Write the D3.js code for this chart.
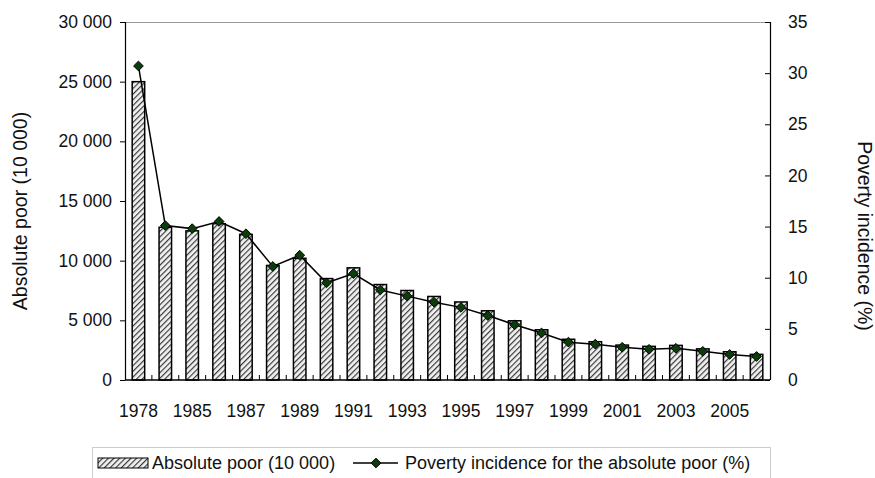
<!DOCTYPE html>
<html>
<head>
<meta charset="utf-8">
<script src="https://cdn.jsdelivr.net/npm/d3@7"></script>
<style>
  body { margin: 0; background: #fff; }
  text { font-family: "Liberation Sans", Arial, sans-serif; fill: #111; }
</style>
</head>
<body>
<script>
// chart data
var years = ["1978", "1984", "1985", "1986", "1987", "1988", "1989", "1990", "1991", "1992", "1993", "1994",
             "1995", "1996", "1997", "1998", "1999", "2000", "2001", "2002", "2003", "2004", "2005", "2006"];
var absolutePoor = [25000, 12800, 12500, 13100, 12200, 9600, 10200, 8500, 9400, 8000, 7500, 7000,
                    6540, 5800, 4962, 4210, 3412, 3209, 2927, 2820, 2900, 2610, 2365, 2148];
var incidence = [30.7, 15.1, 14.8, 15.5, 14.3, 11.1, 12.2, 9.5, 10.4, 8.8, 8.2, 7.6,
                 7.1, 6.3, 5.4, 4.6, 3.7, 3.5, 3.2, 3.0, 3.1, 2.8, 2.5, 2.3];
var leftTicks = [0, 5000, 10000, 15000, 20000, 25000, 30000];
var rightTicks = [0, 5, 10, 15, 20, 25, 30, 35];
var yearLabels = ["1978", "1985", "1987", "1989", "1991", "1993", "1995", "1997", "1999", "2001", "2003", "2005"];

var w = 875, h = 478;
var plotL = 125, plotR = 770, plotT = 22, plotB = 380;

var svg = d3.select("body")
    .append("svg")
    .attr("width", w)
    .attr("height", h);

// hatch pattern for the bars
var pat = svg.append("defs").append("pattern")
    .attr("id", "hatch")
    .attr("patternUnits", "userSpaceOnUse")
    .attr("width", 4)
    .attr("height", 4)
    .attr("patternTransform", "rotate(45)");
pat.append("rect").attr("width", 4).attr("height", 4).attr("fill", "#f2f2f2");
pat.append("line")
    .attr("x1", 0).attr("y1", 0).attr("x2", 0).attr("y2", 4)
    .attr("stroke", "#3a3a3a")
    .attr("stroke-width", 2.4);

var x = d3.scaleBand().domain(years).range([plotL, plotR]);
var yL = d3.scaleLinear().domain([0, 30000]).range([plotB, plotT]);
var yR = d3.scaleLinear().domain([0, 35]).range([plotB, plotT]);

var fmt = function(d){
    return d3.format(",")(d).replace(/,/g, " ");
};

// top frame line
svg.append("line")
    .attr("x1", plotL).attr("x2", plotR)
    .attr("y1", plotT + 0.5).attr("y2", plotT + 0.5)
    .attr("stroke", "#999");

// bars
var barW = 12.5;
svg.selectAll(".bar")
    .data(absolutePoor)
    .enter()
    .append("rect")
    .attr("class", "bar")
    .attr("x", function(d, i){ return x(years[i]) + x.bandwidth() / 2 - barW / 2; })
    .attr("y", function(d){ return yL(d); })
    .attr("width", barW)
    .attr("height", function(d){ return plotB - yL(d); })
    .attr("fill", "url(#hatch)")
    .attr("stroke", "#000")
    .attr("stroke-width", 1.5);

// left axis
var axL = svg.append("g")
    .attr("transform", "translate(" + plotL + ",0)")
    .call(d3.axisLeft(yL).tickValues(leftTicks).tickFormat(fmt).tickSize(5).tickPadding(8));
// right axis
var axR = svg.append("g")
    .attr("transform", "translate(" + plotR + ",0)")
    .call(d3.axisRight(yR).tickValues(rightTicks).tickSizeInner(-5).tickSizeOuter(0).tickPadding(18));
[axL, axR].forEach(function(a){
    a.select(".domain").attr("stroke", "#000").attr("stroke-width", 1.2);
    a.selectAll(".tick line").attr("stroke", "#000");
    a.selectAll("text").style("font-size", "17.5px").attr("fill", "#111");
});
axL.select(".domain").attr("d", "M0.5," + plotT + "V" + plotB);
axR.select(".domain").attr("d", "M0.5," + plotT + "V" + plotB);

// bottom axis with ticks between bars
var xAxis = svg.append("g");
xAxis.append("line")
    .attr("x1", plotL).attr("x2", plotR)
    .attr("y1", plotB).attr("y2", plotB)
    .attr("stroke", "#000").attr("stroke-width", 1.5);
xAxis.selectAll(".xtick")
    .data(years.slice(1))
    .enter()
    .append("line")
    .attr("x1", function(d){ return x(d); })
    .attr("x2", function(d){ return x(d); })
    .attr("y1", plotB)
    .attr("y2", plotB - 5)
    .attr("stroke", "#000");
xAxis.selectAll(".xlabel")
    .data(yearLabels)
    .enter()
    .append("text")
    .attr("x", function(d){ return x(d) + x.bandwidth() / 2; })
    .attr("y", 417)
    .attr("text-anchor", "middle")
    .style("font-size", "17.5px")
    .text(function(d){ return d; });

// line with diamond markers
var line = d3.line()
    .x(function(d, i){ return x(years[i]) + x.bandwidth() / 2; })
    .y(function(d){ return yR(d); });
svg.append("path")
    .datum(incidence)
    .attr("d", line)
    .attr("fill", "none")
    .attr("stroke", "#000")
    .attr("stroke-width", 1.5);
var diamond = d3.symbol().type(d3.symbolDiamond2).size(60);
svg.selectAll(".pt")
    .data(incidence)
    .enter()
    .append("path")
    .attr("class", "pt")
    .attr("d", diamond)
    .attr("transform", function(d, i){
        return "translate(" + (x(years[i]) + x.bandwidth() / 2) + "," + yR(d) + ")";
    })
    .attr("fill", "#0b3d0b")
    .attr("stroke", "#000")
    .attr("stroke-width", 1);

// axis titles
svg.append("text")
    .attr("transform", "translate(27,211) rotate(-90)")
    .attr("text-anchor", "middle")
    .style("font-size", "19.5px")
    .text("Absolute poor (10 000)");
svg.append("text")
    .attr("transform", "translate(858,236) rotate(90)")
    .attr("text-anchor", "middle")
    .style("font-size", "19.5px")
    .text("Poverty incidence (%)");

// legend
var lg = svg.append("g");
lg.append("rect")
    .attr("x", 92.5).attr("y", 447.5)
    .attr("width", 678).attr("height", 32)
    .attr("fill", "#fff")
    .attr("stroke", "#ccc");
lg.append("rect")
    .attr("x", 98).attr("y", 458)
    .attr("width", 50).attr("height", 10)
    .attr("fill", "url(#hatch)")
    .attr("stroke", "#000");
lg.append("text")
    .attr("x", 152).attr("y", 469)
    .style("font-size", "18px")
    .text("Absolute poor (10 000)");
lg.append("line")
    .attr("x1", 353).attr("x2", 398)
    .attr("y1", 463).attr("y2", 463)
    .attr("stroke", "#000").attr("stroke-width", 1.5);
lg.append("path")
    .attr("d", diamond)
    .attr("transform", "translate(376,463)")
    .attr("fill", "#0b3d0b")
    .attr("stroke", "#000");
lg.append("text")
    .attr("x", 405).attr("y", 469)
    .style("font-size", "18px")
    .text("Poverty incidence for the absolute poor (%)");
</script>
</body>
</html>
